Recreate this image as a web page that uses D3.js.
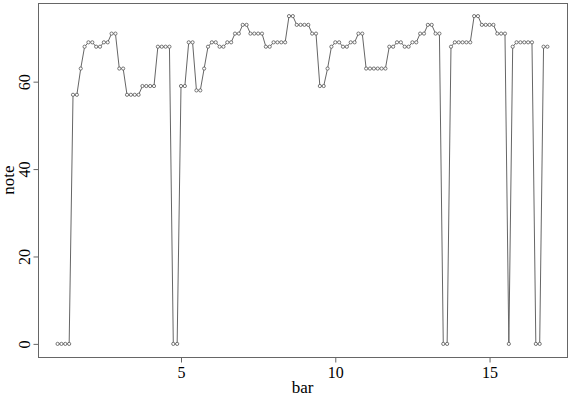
<!DOCTYPE html>
<html>
<head>
<meta charset="utf-8">
<script src="https://cdn.jsdelivr.net/npm/d3@7"></script>
<style>
  body { margin: 0; background: #fff; }
  text { font-family: "Liberation Serif", "DejaVu Serif", serif; fill: #000; }
</style>
</head>
<body>
<script>
// compases y posiciones dentro del compas (corcheas)
var bars = [1, 2, 3, 4, 5, 6, 7, 8, 9, 10, 11, 12, 13, 14, 15, 16];
var steps = [0, 0.125, 0.25, 0.375, 0.5, 0.625, 0.75, 0.875];

// nota de cada corchea, un array por compas (0 = silencio)
var notes = [
  [0, 0, 0, 0, 57, 57, 63, 68],
  [69, 69, 68, 68, 69, 69, 71, 71],
  [63, 63, 57, 57, 57, 57, 59, 59],
  [59, 59, 68, 68, 68, 68, 0, 0],
  [59, 59, 69, 69, 58, 58, 63, 68],
  [69, 69, 68, 68, 69, 69, 71, 71],
  [73, 73, 71, 71, 71, 71, 68, 68],
  [69, 69, 69, 69, 75, 75, 73, 73],
  [73, 73, 71, 71, 59, 59, 63, 68],
  [69, 69, 68, 68, 69, 69, 71, 71],
  [63, 63, 63, 63, 63, 63, 68, 68],
  [69, 69, 68, 68, 69, 69, 71, 71],
  [73, 73, 71, 71, 0, 0, 68, 69],
  [69, 69, 69, 69, 75, 75, 73, 73],
  [73, 73, 71, 71, 71, 0, 68, 69],
  [69, 69, 69, 69, 0, 0, 68, 68]
];

var xTicks = [5, 10, 15];
var yTicks = [0, 20, 40, 60];

var vis = {
  width: 571,
  height: 397,
  left: 38,
  right: 567,
  top: 3,
  bottom: 357,
  grey: "#666"
};

// juntar compas + posicion con su nota
var data = [];
bars.forEach(function(b, i) {
  steps.forEach(function(s, j) {
    data.push({ x: b + s, y: notes[i][j] });
  });
});

// rango con el 4% extra a cada lado como en R
var xr = d3.extent(data, function(d) { return d.x; });
var yr = d3.extent(data, function(d) { return d.y; });
var xp = (xr[1] - xr[0]) * 0.04, yp = (yr[1] - yr[0]) * 0.04;

var x = d3.scaleLinear().domain([xr[0] - xp, xr[1] + xp]).range([vis.left, vis.right]);
var y = d3.scaleLinear().domain([yr[0] - yp, yr[1] + yp]).range([vis.bottom, vis.top]);

var svg = d3.select("body").append("svg")
  .attr("width", vis.width)
  .attr("height", vis.height);

// caja
svg.append("rect")
  .attr("x", vis.left + 0.5)
  .attr("y", vis.top + 0.5)
  .attr("width", vis.right - vis.left)
  .attr("height", vis.bottom - vis.top)
  .attr("fill", "none")
  .attr("stroke", vis.grey);

// ejes
var xAxis = svg.append("g")
  .attr("transform", "translate(0," + (vis.bottom + 0.5) + ")")
  .call(d3.axisBottom(x).tickValues(xTicks).tickSize(5).tickPadding(4));
var yAxis = svg.append("g")
  .attr("transform", "translate(" + (vis.left + 0.5) + ",0)")
  .call(d3.axisLeft(y).tickValues(yTicks).tickSize(5).tickPadding(4));

[xAxis, yAxis].forEach(function(a) {
  a.select(".domain").remove();
  a.selectAll("line").attr("stroke", vis.grey);
  a.selectAll("text").style("font-size", "16px").attr("fill", "#000")
    .style("font-family", "Liberation Serif, serif");
});
xAxis.selectAll("text").attr("dy", "0.71em");

// etiquetas del eje y giradas
yAxis.selectAll(".tick text")
  .attr("x", null).attr("dy", null)
  .attr("text-anchor", "middle")
  .attr("transform", "translate(-9,0) rotate(-90)");

// linea
var line = d3.line()
  .x(function(d) { return x(d.x); })
  .y(function(d) { return y(d.y); });

svg.append("path")
  .datum(data)
  .attr("d", line)
  .attr("fill", "none")
  .attr("stroke", vis.grey)
  .attr("stroke-width", 1);

// puntos
svg.selectAll("circle")
  .data(data)
  .enter()
  .append("circle")
  .attr("cx", function(d) { return x(d.x); })
  .attr("cy", function(d) { return y(d.y); })
  .attr("r", 1.6)
  .attr("fill", "#fff")
  .attr("stroke", "#555")
  .attr("stroke-width", 0.8);

// titulos de ejes
svg.append("text")
  .attr("x", (vis.left + vis.right) / 2)
  .attr("y", 393)
  .attr("text-anchor", "middle")
  .style("font-size", "17px")
  .text("bar");

svg.append("text")
  .attr("transform", "translate(14," + ((vis.top + vis.bottom) / 2) + ") rotate(-90)")
  .attr("text-anchor", "middle")
  .style("font-size", "17px")
  .text("note");
</script>
</body>
</html>
